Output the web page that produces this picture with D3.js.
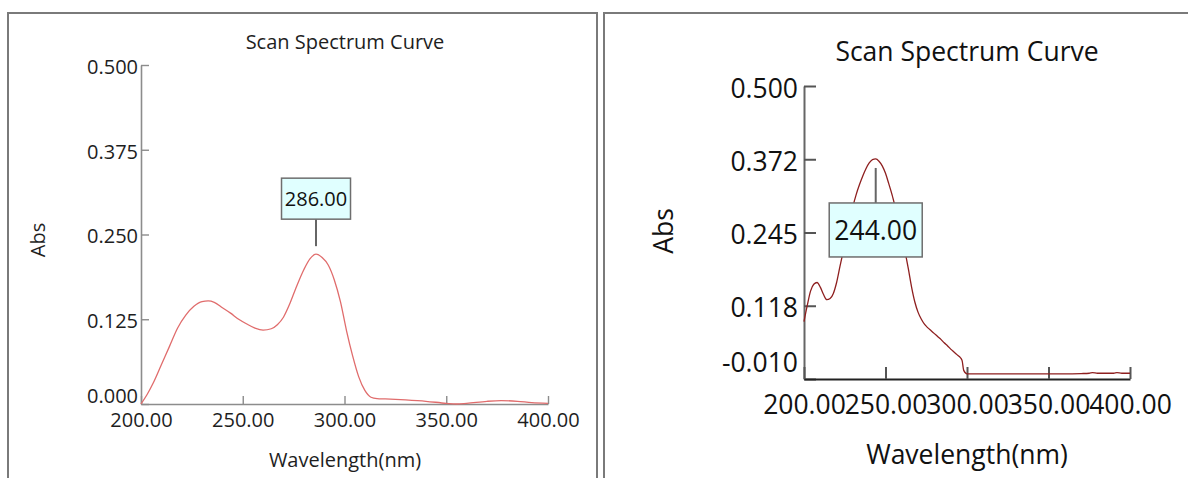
<!DOCTYPE html>
<html>
<head>
  <meta charset="utf-8">
  <script src="https://d3js.org/d3.v7.min.js"></script>
  <style>
    body { margin: 0; background: #fff; }
    svg { display: block; }
    text { font-family: "Open Sans", "Noto Sans", sans-serif; }
  </style>
</head>
<body>
  <div id="chart"></div>

  <script>
    // left scan
    const leftWavelength = [200, 203, 206, 210, 214, 218, 222, 226, 230, 233, 236, 240, 244, 248, 252, 256, 260, 264, 267, 270,
      273, 276, 280, 283, 286, 289, 292, 295, 298, 301, 304, 307, 310, 313, 316, 320, 330, 340, 350, 355, 360, 370, 377, 385, 392, 400];
    const leftAbs = [0.000, 0.014, 0.031, 0.058, 0.085, 0.112, 0.131, 0.144, 0.151, 0.152, 0.150, 0.142, 0.134, 0.125, 0.118, 0.112, 0.109, 0.111, 0.117, 0.128,
      0.147, 0.170, 0.198, 0.214, 0.221, 0.216, 0.205, 0.183, 0.151, 0.108, 0.071, 0.040, 0.020, 0.010, 0.008, 0.0075, 0.006, 0.004, 0.001, 0.000, 0.001, 0.004, 0.005, 0.004, 0.002, 0.001];
    const leftPeak = 286;
    const leftYTicks = [0, 0.125, 0.25, 0.375, 0.5];
    const leftYTickLabels = ["0.000", "0.125", "0.250", "0.375", "0.500"];

    // right scan
    const rightWavelength = [200, 202, 204, 206, 208, 210, 212, 214, 216, 218, 220, 222, 224, 226, 228, 230, 232, 234, 236, 238,
      240, 242, 244, 246, 248, 250, 252, 254, 256, 258, 260, 262, 264, 266, 268, 270, 272, 274, 276, 278,
      280, 282, 284, 286, 288, 290, 292, 294, 296, 297, 298, 300, 302, 320, 340, 360, 370, 375, 377, 380, 385, 390, 392, 395, 400];
    const rightAbs = [0.090, 0.118, 0.143, 0.155, 0.158, 0.150, 0.137, 0.128, 0.130, 0.139, 0.158, 0.185, 0.211, 0.237, 0.263, 0.290, 0.311, 0.328, 0.343, 0.356,
      0.366, 0.372, 0.373, 0.369, 0.361, 0.348, 0.330, 0.311, 0.289, 0.266, 0.241, 0.212, 0.182, 0.150, 0.124, 0.106, 0.094, 0.085, 0.079, 0.074,
      0.069, 0.064, 0.059, 0.053, 0.048, 0.042, 0.037, 0.032, 0.027, 0.022, 0.005, -0.001, -0.001, -0.001, -0.001, -0.001, -0.0005, 0.000, 0.001, 0.000, 0.000, 0.000, 0.001, 0.000, 0.000];
    const rightPeak = 244;
    const rightYTicks = [-0.010, 0.1175, 0.245, 0.3725, 0.500];
    const rightYTickLabels = ["-0.010", "0.118", "0.245", "0.372", "0.500"];

    const xTicks = [200, 250, 300, 350, 400];
    const xTickLabels = ["200.00", "250.00", "300.00", "350.00", "400.00"];

    const title = "Scan Spectrum Curve";
    const xTitle = "Wavelength(nm)";
    const yTitle = "Abs";

    const svg = d3.select("#chart")
      .append("svg")
      .attr("width", 1188)
      .attr("height", 478);

    // panel frames
    svg.append("path")
      .attr("d", "M8,480 V13 H597 V480")
      .attr("fill", "none").attr("stroke", "#7a7a7a").attr("stroke-width", 2);
    svg.append("path")
      .attr("d", "M604,480 V13 H1190")
      .attr("fill", "none").attr("stroke", "#7a7a7a").attr("stroke-width", 2);

    function drawPanel(p) {
      const x = d3.scaleLinear().domain([200, 400]).range([p.x0, p.x1]);
      const y = d3.scaleLinear().domain(p.yDomain).range([p.y0, p.y1]);
      const g = svg.append("g");

      // x axis, ticks pointing up into the plot
      const xAxis = g.append("g")
        .attr("transform", `translate(0,${p.y0})`)
        .call(d3.axisBottom(x).tickValues(xTicks).tickFormat((d, i) => xTickLabels[i])
          .tickSize(-p.tick).tickSizeOuter(0).tickPadding(p.xPad));
      xAxis.select(".domain").attr("stroke", p.xAxisColor).attr("stroke-width", p.axisWidth);
      xAxis.selectAll(".tick line").attr("stroke", p.tickColor).attr("stroke-width", p.tickWidth);
      xAxis.selectAll(".tick text")
        .attr("font-size", p.fontSize).attr("fill", p.textColor)
        .attr("font-family", '"Open Sans", sans-serif');

      // y axis, ticks pointing right
      const yAxis = g.append("g")
        .attr("transform", `translate(${p.x0},0)`)
        .call(d3.axisLeft(y).tickValues(p.yTicks).tickFormat((d, i) => p.yTickLabels[i])
          .tickSize(-p.tick).tickSizeOuter(0).tickPadding(p.yPad));
      yAxis.select(".domain").attr("stroke", p.yAxisColor).attr("stroke-width", p.axisWidth);
      yAxis.selectAll(".tick line").attr("stroke", p.tickColor).attr("stroke-width", p.tickWidth);
      yAxis.selectAll(".tick text")
        .attr("font-size", p.fontSize).attr("fill", p.textColor)
        .attr("font-family", '"Open Sans", sans-serif')
        .attr("dy", (d, i) => i === 0 ? p.lastLabelDy : "0.42em");
      xAxis.raise();

      // curve
      const pts = p.wl.map((w, i) => [w, p.abs[i]]);
      g.append("path")
        .datum(pts)
        .attr("fill", "none")
        .attr("stroke", p.lineColor)
        .attr("stroke-width", p.lineWidth)
        .attr("d", d3.line().x(d => x(d[0])).y(d => y(d[1])).curve(d3.curveMonotoneX));

      // peak label
      const peakIdx = p.wl.indexOf(p.peak);
      const px = x(p.peak), py = y(p.abs[peakIdx]);
      const boxTop = p.boxBelow ? py + p.boxGap : py - p.boxGap - p.boxH;
      g.append("line")
        .attr("x1", px).attr("x2", px)
        .attr("y1", p.boxBelow ? boxTop : boxTop + p.boxH)
        .attr("y2", p.boxBelow ? py + p.leadGap : py - p.leadGap)
        .attr("stroke", "#666").attr("stroke-width", 2);
      g.append("rect")
        .attr("x", px - p.boxW / 2).attr("y", boxTop)
        .attr("width", p.boxW).attr("height", p.boxH)
        .attr("fill", "#e0ffff").attr("stroke", "#6e6e6e").attr("stroke-width", 1.5);
      g.append("text")
        .attr("x", px).attr("y", boxTop + p.boxH / 2)
        .attr("dy", "0.36em")
        .attr("text-anchor", "middle")
        .attr("font-size", p.fontSize).attr("fill", "#111")
        .text(p.peak.toFixed(2));

      // titles
      g.append("text")
        .attr("x", p.titleX).attr("y", p.titleY)
        .attr("text-anchor", "middle")
        .attr("font-size", p.fontSize).attr("fill", p.textColor)
        .text(title);
      g.append("text")
        .attr("x", p.titleX).attr("y", p.xTitleY)
        .attr("text-anchor", "middle")
        .attr("font-size", p.fontSize).attr("fill", p.textColor)
        .text(xTitle);
      g.append("text")
        .attr("transform", `translate(${p.yTitleX},${p.yTitleY}) rotate(-90)`)
        .attr("text-anchor", "middle")
        .attr("font-size", p.fontSize).attr("fill", p.textColor)
        .text(yTitle);
    }

    drawPanel({
      wl: leftWavelength, abs: leftAbs, peak: leftPeak,
      yDomain: [0, 0.5], yTicks: leftYTicks, yTickLabels: leftYTickLabels,
      x0: 141, x1: 548, y0: 404, y1: 65,
      tick: 8, xPad: 9, yPad: 3, lastLabelDy: "-0.1em",
      fontSize: 20, textColor: "#1e1e1e",
      xAxisColor: "#8c8c8c", yAxisColor: "#8c8c8c", tickColor: "#8c8c8c",
      axisWidth: 1.6, tickWidth: 1.4,
      lineColor: "#e06c6c", lineWidth: 1.3,
      boxBelow: false, boxGap: 35, boxW: 69, boxH: 41, leadGap: 8,
      titleX: 345, titleY: 49, xTitleY: 467, yTitleX: 45, yTitleY: 240
    });

    drawPanel({
      wl: rightWavelength, abs: rightAbs, peak: rightPeak,
      yDomain: [-0.01, 0.5], yTicks: rightYTicks, yTickLabels: rightYTickLabels,
      x0: 804, x1: 1130, y0: 379, y1: 86,
      tick: 12, xPad: 16, yPad: 6, lastLabelDy: "-0.3em",
      fontSize: 26.5, textColor: "#111",
      xAxisColor: "#222", yAxisColor: "#666", tickColor: "#555",
      axisWidth: 2, tickWidth: 2,
      lineColor: "#8e1f1f", lineWidth: 1.3,
      boxBelow: true, boxGap: 44, boxW: 93, boxH: 54, leadGap: 9,
      titleX: 967, titleY: 61, xTitleY: 464, yTitleX: 673, yTitleY: 231
    });
  </script>
</body>
</html>
